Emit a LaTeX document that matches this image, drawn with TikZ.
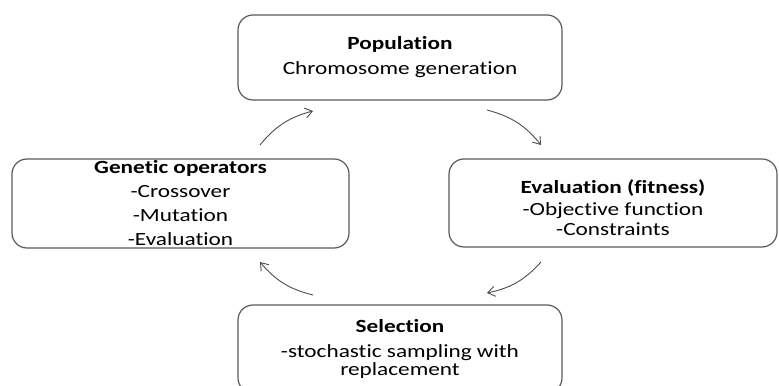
\documentclass[tikz,border=0pt]{standalone}
\usepackage{fontspec}
\setmainfont{Carlito}[FakeStretch=1.25, Ligatures=NoCommon]
\usetikzlibrary{arrows.meta}
\begin{document}
\begin{tikzpicture}[x=0.5pt, y=0.5pt,
        stage/.style={draw=black!65, line width=0.6pt, rounded corners=7.5pt, align=center, inner sep=0pt,
            font=\fontsize{9.3}{9}\selectfont},
        flow/.style={-{Straight Barb[length=3.5pt, width=5pt]}, draw=black!70, line width=0.45pt, bend left=18}]
        \useasboundingbox (0,0) rectangle (779,385);
        % the four stages of the cycle
        \node[stage, minimum width=162pt, minimum height=42.5pt] (pop) at (400,327.5) {\textbf{Population}\\[3.5pt] Chromosome generation};
        \node[stage, minimum width=164pt, minimum height=44pt] (eval) at (613,182) {\rule{0pt}{12pt}\textbf{Evaluation (fitness)}\\[2pt] -Objective function\\[1pt] -Constraints};
        \node[stage, minimum width=162pt, minimum height=44pt] (sel) at (400,36) {\textbf{Selection}\\[3.5pt] -stochastic sampling with\\ replacement};
        \node[stage, minimum width=168.5pt, minimum height=44.5pt] (gen) at (180.5,181.5) {\textbf{Genetic operators}\\[3pt] -Crossover\\[3pt] -Mutation\\[3pt] -Evaluation};
        % arrow ends
        \coordinate (pop-out) at (487,275);
        \coordinate (eval-in) at (541,240);
        \coordinate (eval-out) at (541,123);
        \coordinate (sel-in) at (487,92);
        \coordinate (sel-out) at (313,90);
        \coordinate (gen-in) at (260,123);
        \coordinate (gen-out) at (260,240);
        \coordinate (pop-in) at (313,274);
        \draw[flow] (pop-out) to (eval-in);
        \draw[flow] (eval-out) to (sel-in);
        \draw[flow] (sel-out) to (gen-in);
        \draw[flow] (gen-out) to (pop-in);
\end{tikzpicture}
\end{document}
